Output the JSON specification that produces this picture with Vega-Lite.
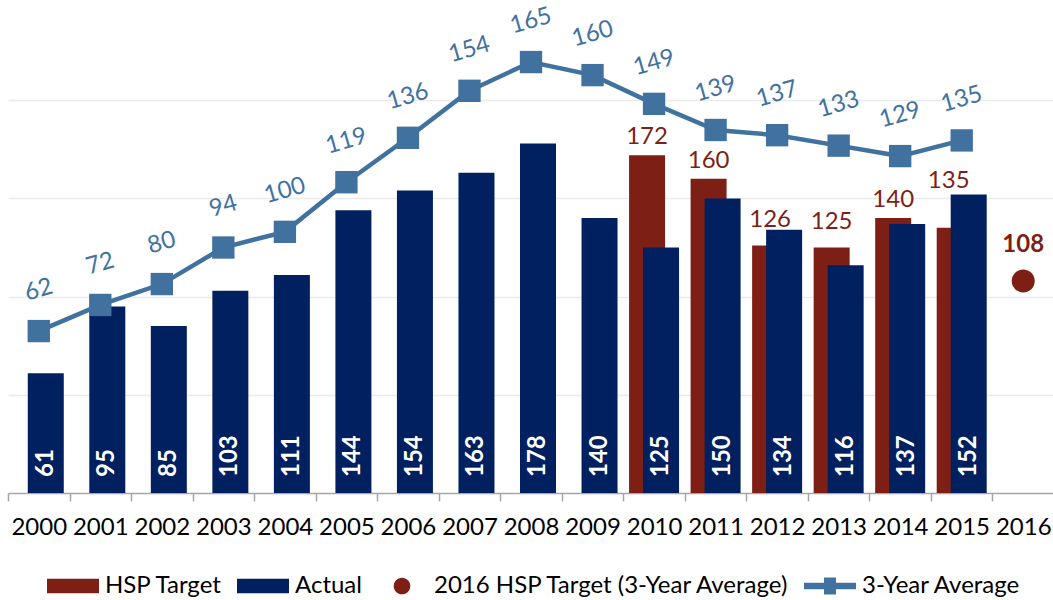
{
  "$schema": "https://vega.github.io/schema/vega-lite/v6.json",
  "width": 1046,
  "height": 491,
  "padding": {"left": 7, "top": 2, "right": 0, "bottom": 0},
  "background": "white",
  "config": {"view": {"stroke": null}, "font": "Lato"},
  "datasets": {
    "d": [
      {"year": "2000", "actual": 61, "avg": 62},
      {"year": "2001", "actual": 95, "avg": 72},
      {"year": "2002", "actual": 85, "avg": 80},
      {"year": "2003", "actual": 103, "avg": 94},
      {"year": "2004", "actual": 111, "avg": 100},
      {"year": "2005", "actual": 144, "avg": 119},
      {"year": "2006", "actual": 154, "avg": 136},
      {"year": "2007", "actual": 163, "avg": 154},
      {"year": "2008", "actual": 178, "avg": 165},
      {"year": "2009", "actual": 140, "avg": 160},
      {"year": "2010", "actual": 125, "target": 172, "avg": 149},
      {"year": "2011", "actual": 150, "target": 160, "avg": 139},
      {"year": "2012", "actual": 134, "target": 126, "avg": 137},
      {"year": "2013", "actual": 116, "target": 125, "avg": 133},
      {"year": "2014", "actual": 137, "target": 140, "avg": 129},
      {"year": "2015", "actual": 152, "target": 135, "avg": 135},
      {"year": "2016", "hsp2016": 108, "series": "2016 HSP Target (3-Year Average)"}
    ]
  },
  "data": {"name": "d"},
  "encoding": {
    "x": {
      "field": "year",
      "type": "nominal",
      "scale": {
        "domain": ["2000","2001","2002","2003","2004","2005","2006","2007","2008","2009","2010","2011","2012","2013","2014","2015","2016"],
        "paddingInner": 0,
        "paddingOuter": 0
      },
      "axis": {
        "title": null,
        "labelAngle": 0,
        "tickBand": "extent",
        "tickSize": 8,
        "tickWidth": 1.5,
        "tickColor": "#a6a6a6",
        "domainColor": "#a6a6a6",
        "domainWidth": 1.5,
        "labelFont": "Lato",
        "labelFontSize": 24,
        "labelColor": "#000000",
        "labelPadding": 14,
        "grid": false
      }
    }
  },
  "layer": [
    {
      "layer": [
        {
          "transform": [{"filter": "datum.target != null"}],
          "mark": {"type": "bar", "width": 36, "xOffset": -7, "color": "#7E1F16"},
          "encoding": {
            "y": {
              "field": "target",
              "type": "quantitative",
              "scale": {"domain": [0, 250], "nice": false},
              "axis": {
                "title": null,
                "labels": false,
                "ticks": false,
                "domain": false,
                "grid": true,
                "values": [50, 100, 150, 200],
                "gridColor": "#ebebeb",
                "gridWidth": 1.5
              }
            }
          }
        },
        {
          "transform": [{"filter": "datum.actual != null"}],
          "mark": {"type": "bar", "width": 36, "xOffset": 7, "color": "#002060"},
          "encoding": {
            "y": {"field": "actual", "type": "quantitative", "scale": {"domain": [0, 250], "nice": false}}
          }
        },
        {
          "transform": [{"filter": "datum.year == '2010' || datum.year == '2011' || datum.year == '2014'"}],
          "mark": {"type": "text", "dy": -11, "baseline": "alphabetic", "xOffset": -7, "fontSize": 24, "color": "#7E1F16", "font": "Lato"},
          "encoding": {
            "y": {"field": "target", "type": "quantitative", "scale": {"domain": [0, 250], "nice": false}},
            "text": {"field": "target", "type": "quantitative"}
          }
        },
        {
          "transform": [{"filter": "datum.year == '2012' || datum.year == '2013'"}],
          "mark": {"type": "text", "dy": -19, "baseline": "alphabetic", "xOffset": -7, "fontSize": 24, "color": "#7E1F16", "font": "Lato"},
          "encoding": {
            "y": {"field": "target", "type": "quantitative", "scale": {"domain": [0, 250], "nice": false}},
            "text": {"field": "target", "type": "quantitative"}
          }
        },
        {
          "transform": [{"filter": "datum.year == '2015'"}],
          "mark": {"type": "text", "dy": -40, "baseline": "alphabetic", "xOffset": -13, "fontSize": 24, "color": "#7E1F16", "font": "Lato"},
          "encoding": {
            "y": {"field": "target", "type": "quantitative", "scale": {"domain": [0, 250], "nice": false}},
            "text": {"field": "target", "type": "quantitative"}
          }
        },
        {
          "transform": [{"filter": "datum.actual != null"}],
          "mark": {"type": "text", "angle": 270, "align": "left", "baseline": "middle", "dx": 16, "xOffset": 7, "fontSize": 24, "fontWeight": "bold", "color": "#ffffff", "font": "Lato"},
          "encoding": {
            "y": {"datum": 0, "type": "quantitative", "scale": {"domain": [0, 250], "nice": false}},
            "text": {"field": "actual", "type": "quantitative"}
          }
        },
        {
          "transform": [{"filter": "datum.hsp2016 != null"}],
          "mark": {"type": "point", "filled": true, "opacity": 1, "size": 5170},
          "encoding": {
            "y": {"field": "hsp2016", "type": "quantitative", "scale": {"domain": [0, 250], "nice": false}},
            "color": {
              "field": "series",
              "type": "nominal",
              "scale": {
                "domain": ["HSP Target", "Actual", "2016 HSP Target (3-Year Average)", "3-Year Average"],
                "range": ["#7E1F16", "#002060", "#7E1F16", "#41729F"]
              },
              "legend": {
                "orient": "none", "legendX": 39, "legendY": 558, "direction": "horizontal", "title": null,
                "labelFont": "Lato", "labelFontSize": 24, "labelColor": "#000000", "symbolSize": 2704,
                "labelOffset": 6, "columnPadding": 14, "symbolStrokeWidth": 0, "padding": 0, "labelLimit": 0
              }
            },
            "shape": {
              "field": "series",
              "type": "nominal",
              "scale": {
                "domain": ["HSP Target", "Actual", "2016 HSP Target (3-Year Average)", "3-Year Average"],
                "range": [
                  "M-1,-0.277H1V0.277H-1Z",
                  "M-1,-0.277H1V0.277H-1Z",
                  "M-0.32,0A0.32,0.32 0 1,0 0.32,0A0.32,0.32 0 1,0 -0.32,0Z",
                  "M-1,-0.125H-0.23V-0.33H0.23V-0.125H1V0.125H0.23V0.33H-0.23V0.125H-1Z"
                ]
              },
              "legend": {
                "orient": "none", "legendX": 39, "legendY": 558, "direction": "horizontal", "title": null,
                "labelFont": "Lato", "labelFontSize": 24, "labelColor": "#000000", "symbolSize": 2704,
                "labelOffset": 6, "columnPadding": 14, "symbolStrokeWidth": 0, "padding": 0, "labelLimit": 0
              }
            }
          }
        },
        {
          "transform": [{"filter": "datum.hsp2016 != null"}],
          "mark": {"type": "text", "dy": -29, "baseline": "alphabetic", "fontSize": 24, "fontWeight": "bold", "color": "#7E1F16", "font": "Lato"},
          "encoding": {
            "y": {"field": "hsp2016", "type": "quantitative", "scale": {"domain": [0, 250], "nice": false}},
            "text": {"field": "hsp2016", "type": "quantitative"}
          }
        }
      ]
    },
    {
      "layer": [
        {
          "transform": [{"filter": "datum.avg != null"}],
          "mark": {
            "type": "line",
            "color": "#41729F",
            "strokeWidth": 4.5,
            "point": {"shape": "square", "size": 500, "filled": true, "color": "#41729F", "opacity": 1}
          },
          "encoding": {
            "y": {"field": "avg", "type": "quantitative", "scale": {"domain": [0, 188], "nice": false}, "axis": null}
          }
        },
        {
          "transform": [{"filter": "datum.avg != null"}],
          "mark": {"type": "text", "angle": -16, "yOffset": -41, "align": "center", "baseline": "middle", "fontSize": 24, "color": "#41729F", "font": "Lato"},
          "encoding": {
            "y": {"field": "avg", "type": "quantitative", "scale": {"domain": [0, 188], "nice": false}, "axis": null},
            "text": {"field": "avg", "type": "quantitative"}
          }
        }
      ]
    }
  ],
  "resolve": {"scale": {"y": "independent"}}
}
